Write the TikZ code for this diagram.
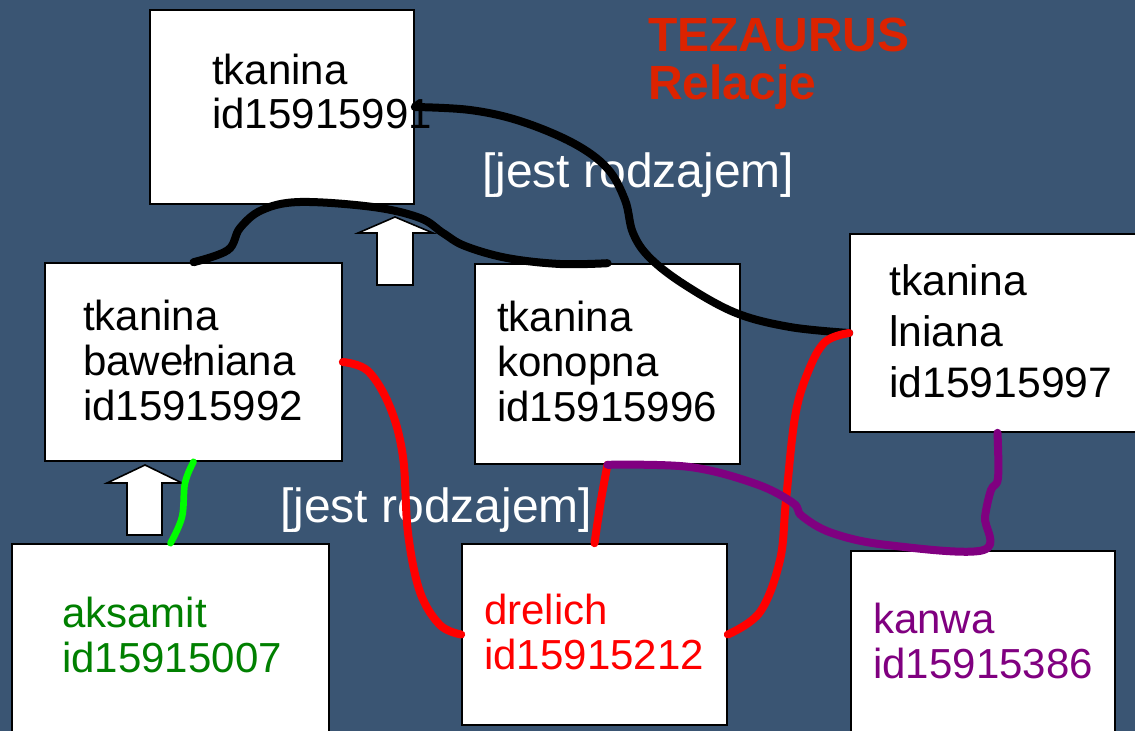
\documentclass[tikz,border=0pt]{standalone}
\usepackage{fontspec}
\setmainfont{Liberation Sans}
\definecolor{bg}{RGB}{58,85,115}
\definecolor{titlered}{RGB}{220,35,0}
\definecolor{darkgreen}{RGB}{0,128,0}
\definecolor{purp}{RGB}{128,0,128}
\definecolor{brightgreen}{RGB}{0,255,0}
\begin{document}
\begin{tikzpicture}[x=0.75pt,y=-0.75pt,
  box/.style={draw=black, line width=1.2pt, fill=white, inner sep=0pt},
  txt/.style={inner sep=0pt, anchor=base west, align=left, font=\fontsize{31.5}{33.5}\selectfont},
  txtwide/.style={txt, font=\fontsize{32}{38}\selectfont},
  rel/.style={inner sep=0pt, anchor=base west, text=white, font=\fontsize{36}{40}\selectfont},
  blockarrow/.style={draw=black, line width=1.2pt, fill=white, line join=miter},
  curve/.style={line width=6pt, line cap=round, line join=round},
  every plot/.style={smooth, tension=0.6}]
\fill[bg] (0,0) rectangle (1135,731);
\useasboundingbox (0,0) rectangle (1135,731);

% boxes
\node[box, minimum width=264*0.75pt, minimum height=194*0.75pt] (top) at (282,107) {};
\node[box, minimum width=297*0.75pt, minimum height=198*0.75pt] (baw) at (193.5,362) {};
\node[box, minimum width=265*0.75pt, minimum height=200*0.75pt] (kon) at (607.5,364) {};
\node[box, minimum width=295*0.75pt, minimum height=198*0.75pt] (lni) at (997.5,333) {};
\node[box, minimum width=317*0.75pt, minimum height=196*0.75pt] (aks) at (170.5,642) {};
\node[box, minimum width=265*0.75pt, minimum height=181*0.75pt] (dre) at (594.5,634.5) {};
\node[box, minimum width=264*0.75pt, minimum height=189*0.75pt] (kan) at (983,645.5) {};

% texts (anchor = baseline of the last line)
\node[txt] (topt) at (212,129) {tkanina\\id15915991};
\node[txt] (bawt) at (83,420) {tkanina\\bawełniana\\id15915992};
\node[txt] (kont) at (497,421) {tkanina\\konopna\\id15915996};
\node[txtwide] (lnit) at (889,397) {tkanina\\lniana\\id15915997};
\node[txt, text=darkgreen] (akst) at (62,672) {aksamit\\id15915007};
\node[txt, text=red] (dret) at (484,669) {drelich\\id15915212};
\node[txt, text=purp] (kant) at (873,678) {kanwa\\id15915386};

% title
\node[inner sep=0pt, anchor=base west, align=left, text=titlered,
      font=\fontsize{36}{36}\selectfont\bfseries] (title) at (648,100) {TEZAURUS\\Relacje};

% relation labels
\node[rel] (rel1) at (482,188) {[jest rodzajem]};
\node[rel] (rel2) at (280,522) {[jest rodzajem]};

% block arrows
\draw[blockarrow] (395,217) -- (433,233) -- (413,233) -- (413,285) -- (377,285) -- (377,233) -- (358,233) -- cycle;
\draw[blockarrow] (145,465) -- (182,483) -- (162,483) -- (162,535) -- (127,535) -- (127,483) -- (107,483) -- cycle;

% connectors
\draw[curve, black] plot coordinates {(top.east) (470,110) (520,121) (573,143) (607,168) (625,200) (633,233) (650,258) (685,285) (736,313) (790,327) (lni.west)};
\draw[curve, black] plot coordinates {(baw.north) (228,250) (240,228) (262,210) (300,202) (373,207) (420,218) (443,233) (465,246) (507,258) (560,264) (kon.north)};
\draw[curve, brightgreen, line width=5pt] plot coordinates {(baw.south) (185,483) (182,517) (aks.north)};
\draw[curve, red] plot coordinates {(baw.east) (368,371) (390,407) (403,457) (408,533) (420,592) (440,625) (dre.west)};
\draw[curve, red] plot coordinates {(dre.east) (760,612) (780,560) (786,500) (795,417) (808,372) (825,342) (lni.west)};
\draw[curve, red] plot coordinates {(dre.north) (601,500) (kon.south)};
\draw[curve, purp] plot coordinates {(kon.south) (690,467) (756,484) (793,503) (802,516) (832,533) (887,545) (kan.north) (985,517) (991,490) (998,478) (lni.south)};
\end{tikzpicture}
\end{document}
